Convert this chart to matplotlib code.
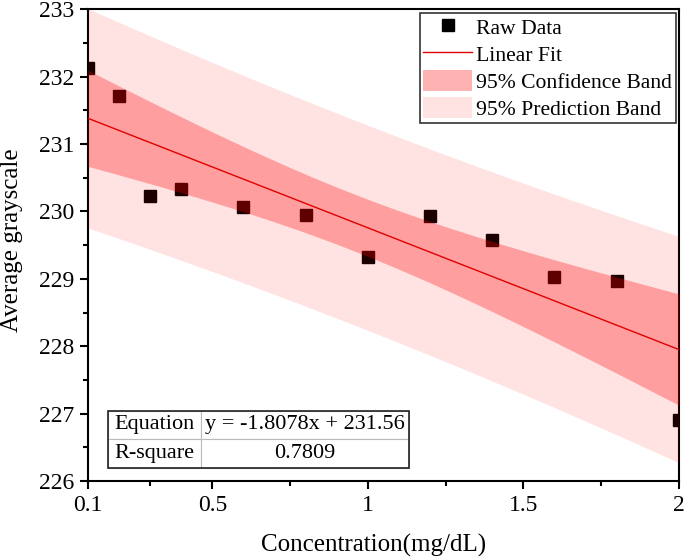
import matplotlib
matplotlib.use("Agg")
import matplotlib.pyplot as plt
from matplotlib.patches import Rectangle
import numpy as np

# data
conc = np.array([0.1, 0.2, 0.3, 0.4, 0.6, 0.8, 1.0, 1.2, 1.4, 1.6, 1.8, 2.0])
gray = np.array([232.13, 231.71, 230.23, 230.33, 230.07, 229.95,
                 229.33, 229.94, 229.57, 229.03, 228.97, 226.91])
eq_text = "y = -1.8078x + 231.56"
r2_text = "0.7809"
x_ticks = [0.1, 0.5, 1, 1.5, 2]
x_tick_labels = ["0.1", "0.5", "1", "1.5", "2"]
x_minor = [0.3, 0.75, 1.25, 1.75]

plt.rcParams['font.family'] = ['Liberation Serif', 'DejaVu Serif']

# linear fit + 95% bands (t value for df=10)
n = len(conc)
slope, icpt = np.polyfit(conc, gray, 1)
resid = gray - (slope * conc + icpt)
s = np.sqrt(np.sum(resid ** 2) / (n - 2))
sxx = np.sum((conc - conc.mean()) ** 2)
t = 2.228
xf = np.linspace(0.1, 2.0, 200)
yf = slope * xf + icpt
ci = t * s * np.sqrt(1 / n + (xf - conc.mean()) ** 2 / sxx)
pi = t * s * np.sqrt(1 + 1 / n + (xf - conc.mean()) ** 2 / sxx)

fig = plt.figure(figsize=(6.85, 5.58), dpi=100)
ax = fig.add_axes([0.1285, 0.138, 0.8625, 0.8453])

ax.plot(conc, gray, 's', color='black', markersize=8, label='Raw Data', zorder=2)
ax.fill_between(xf, yf - pi, yf + pi, color='red', alpha=0.11, lw=0,
                label='95% Prediction Band', zorder=3)
ax.fill_between(xf, yf - ci, yf + ci, color='red', alpha=0.30, lw=0,
                label='95% Confidence Band', zorder=4)
ax.plot(xf, yf, color='#e00000', lw=1, label='Linear Fit', zorder=5)

ax.set_xlim(0.1, 2.0)
ax.set_ylim(226, 233)
ax.set_xticks(x_ticks)
ax.set_xticklabels(x_tick_labels)
ax.set_xticks(x_minor, minor=True)
ax.set_yticks(np.arange(226, 234, 1))
ax.set_yticks(np.arange(226.5, 233, 1), minor=True)
ax.tick_params(which='major', length=6, width=1.5, labelsize=17, direction='out')
ax.tick_params(which='minor', length=3.5, width=1.5, direction='out')
ax.tick_params(axis='x', pad=4)
ax.tick_params(axis='y', pad=4)
for sp in ax.spines.values():
    sp.set_linewidth(1.5)

ax.set_xlabel('Concentration(mg/dL)', fontsize=18, va='center')
ax.xaxis.set_label_coords(0.484, -0.136)
ax.set_ylabel('Average grayscale', fontsize=18, va='center')
ax.yaxis.set_label_coords(-0.128, 0.51)

h, l = ax.get_legend_handles_labels()
order = [l.index(k) for k in ['Raw Data', 'Linear Fit', '95% Confidence Band', '95% Prediction Band']]
leg = ax.legend([h[i] for i in order], [l[i] for i in order], loc='upper right',
                fontsize=15.6, fancybox=False, framealpha=1, edgecolor='#333333',
                borderaxespad=0.15, handlelength=2.25, handleheight=1.1,
                handletextpad=0.2, borderpad=0.15, labelspacing=0.2)
leg.get_frame().set_linewidth(1.2)

tbl = ax.table(cellText=[["Equation", eq_text], ["R-square", r2_text]],
               colWidths=[0.308, 0.692], cellLoc='center',
               bbox=[0.033, 0.028, 0.511, 0.121], zorder=6)
tbl.auto_set_font_size(False)
for (r, c), cell in tbl.get_celld().items():
    cell.set_fontsize(16)
    cell.set_edgecolor('#bbbbbb')
    cell.set_linewidth(0.8)
    cell.set_facecolor('white')
# outer border of the table
ax.add_patch(Rectangle((0.033, 0.028), 0.511, 0.121, transform=ax.transAxes,
                       fill=False, ec='#222222', lw=1.2, zorder=7))

fig.savefig('out.png', dpi=100)
